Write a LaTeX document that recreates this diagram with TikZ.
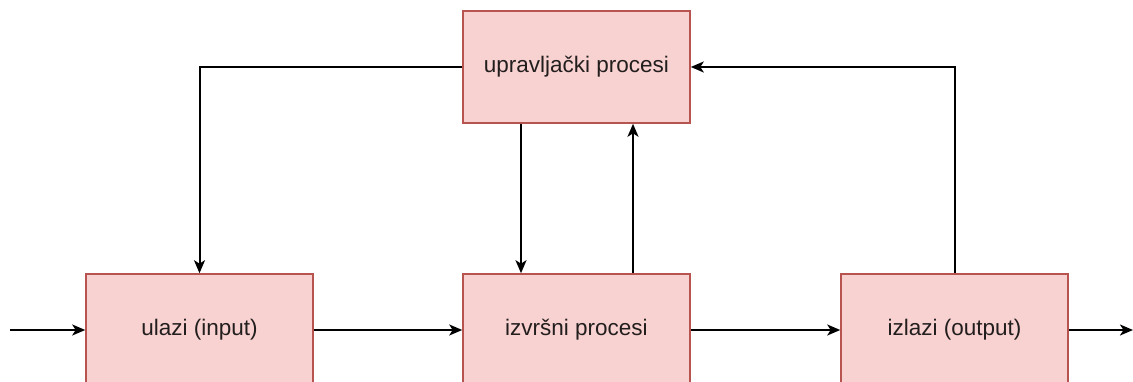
\documentclass[tikz,border=0pt]{standalone}
\usepackage{fontspec}
\setmainfont{Liberation Sans}
\usetikzlibrary{arrows.meta}
\begin{document}
\begin{tikzpicture}[x=1pt,y=-1pt,
  box/.style={draw={rgb,255:red,184;green,84;blue,80},line width=1.6pt,fill={rgb,255:red,248;green,210;blue,208},minimum width=227pt,minimum height=112pt,inner sep=0pt,font=\fontsize{22.5}{27}\selectfont,text={rgb,255:red,34;green,30;blue,30}},
  conn/.style={line width=2pt,-{Stealth[length=13pt,width=11pt,inset=3.5pt]}}]
\useasboundingbox (0,0) rectangle (1133,382);
\node[box] (ctrl) at (576.5,67) {upravljački procesi};
\node[box] (in) at (199.5,330) {ulazi (input)};
\node[box] (exe) at (576.5,330) {izvršni procesi};
\node[box] (out) at (954.5,330) {izlazi (output)};
\coordinate (src) at (10,330);
\coordinate (dst) at (1133,330);
\draw[conn] (src) -- (in.west);
\draw[conn] (in.east) -- (exe.west);
\draw[conn] (exe.east) -- (out.west);
\draw[conn] (out.east) -- (dst);
\draw[conn] (ctrl.west) -| (in.north);
\draw[conn] (out.north) |- (ctrl.east);
\draw[conn] (ctrl.south -| 521,0) -- (exe.north -| 521,0);
\draw[conn] (exe.north -| 633,0) -- (ctrl.south -| 633,0);
\end{tikzpicture}
\end{document}
